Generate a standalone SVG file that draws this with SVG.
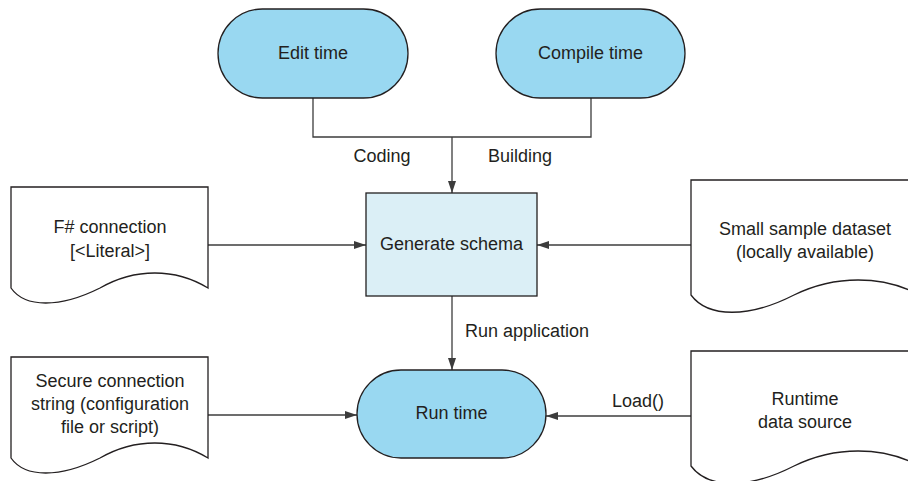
<svg xmlns="http://www.w3.org/2000/svg" width="908" height="481" viewBox="0 0 908 481">
<style>
  .term { fill: #99d8f1; stroke: #231f20; stroke-width: 1.3; }
  .proc { fill: #dbeff6; stroke: #231f20; stroke-width: 1.3; }
  .doc { fill: #ffffff; stroke: #231f20; stroke-width: 1.3; }
  .conn { fill: none; stroke: #3c3c3c; stroke-width: 1.3; }
  text { font-family: "Liberation Sans", Arial, sans-serif; font-size: 18px; fill: #231f20; }
  .c { text-anchor: middle; }
</style>
<defs>
  <marker id="arrow" markerUnits="userSpaceOnUse" markerWidth="12" markerHeight="9" refX="12" refY="4.5" orient="auto">
    <path d="M0,0.5 L12,4.5 L0,8.5 z" fill="#3c3c3c"/>
  </marker>
</defs>

<g id="connectors">
  <path class="conn" d="M313,98 V137 H591 V98"/>
  <path class="conn" d="M452,137 V193" marker-end="url(#arrow)"/>
  <path class="conn" d="M208,245 H366" marker-end="url(#arrow)"/>
  <path class="conn" d="M691,245 H537" marker-end="url(#arrow)"/>
  <path class="conn" d="M452,296 V370" marker-end="url(#arrow)"/>
  <path class="conn" d="M208,415 H357" marker-end="url(#arrow)"/>
  <path class="conn" d="M691,416 H546" marker-end="url(#arrow)"/>
  <text x="382" y="162" class="c">Coding</text>
  <text x="520" y="162" class="c">Building</text>
  <text x="465" y="337">Run application</text>
  <text x="638" y="407" class="c">Load()</text>
</g>

<g id="edit-time">
  <rect class="term" x="218" y="9" width="190" height="89" rx="44.5" ry="44.5"/>
  <text x="313" y="59" class="c">Edit time</text>
</g>

<g id="compile-time">
  <rect class="term" x="496" y="9" width="189" height="89" rx="44.5" ry="44.5"/>
  <text x="590.5" y="59" class="c">Compile time</text>
</g>

<g id="generate-schema">
  <rect class="proc" x="366" y="193" width="171" height="103"/>
  <text x="451.5" y="250" class="c">Generate schema</text>
</g>

<g id="fsharp-connection">
  <path class="doc" d="M11,187 H208 V288 C175,268 135,268 100,288 C60,308 25,308 11,288 Z"/>
  <text x="110" y="233" class="c">F# connection</text>
  <text x="110" y="257" class="c">[&lt;Literal&gt;]</text>
</g>

<g id="small-sample">
  <path class="doc" d="M691,180 H920 V295 C882,275 835,275 794,295 C749,318 708,318 691,295 Z"/>
  <text x="805" y="235" class="c">Small sample dataset</text>
  <text x="805" y="258" class="c">(locally available)</text>
</g>

<g id="run-time">
  <rect class="term" x="357" y="370" width="189" height="88" rx="44" ry="44"/>
  <text x="451.5" y="419" class="c">Run time</text>
</g>

<g id="secure-connection">
  <path class="doc" d="M11,357 H208 V458 C175,438 135,438 100,458 C60,478 25,478 11,458 Z"/>
  <text x="110" y="387" class="c">Secure connection</text>
  <text x="110" y="410" class="c">string (configuration</text>
  <text x="110" y="433" class="c">file or script)</text>
</g>

<g id="runtime-data-source">
  <path class="doc" d="M691,351 H920 V466 C882,446 835,446 794,466 C749,489 708,489 691,466 Z"/>
  <text x="805" y="405" class="c">Runtime</text>
  <text x="805" y="428" class="c">data source</text>
</g>
</svg>
